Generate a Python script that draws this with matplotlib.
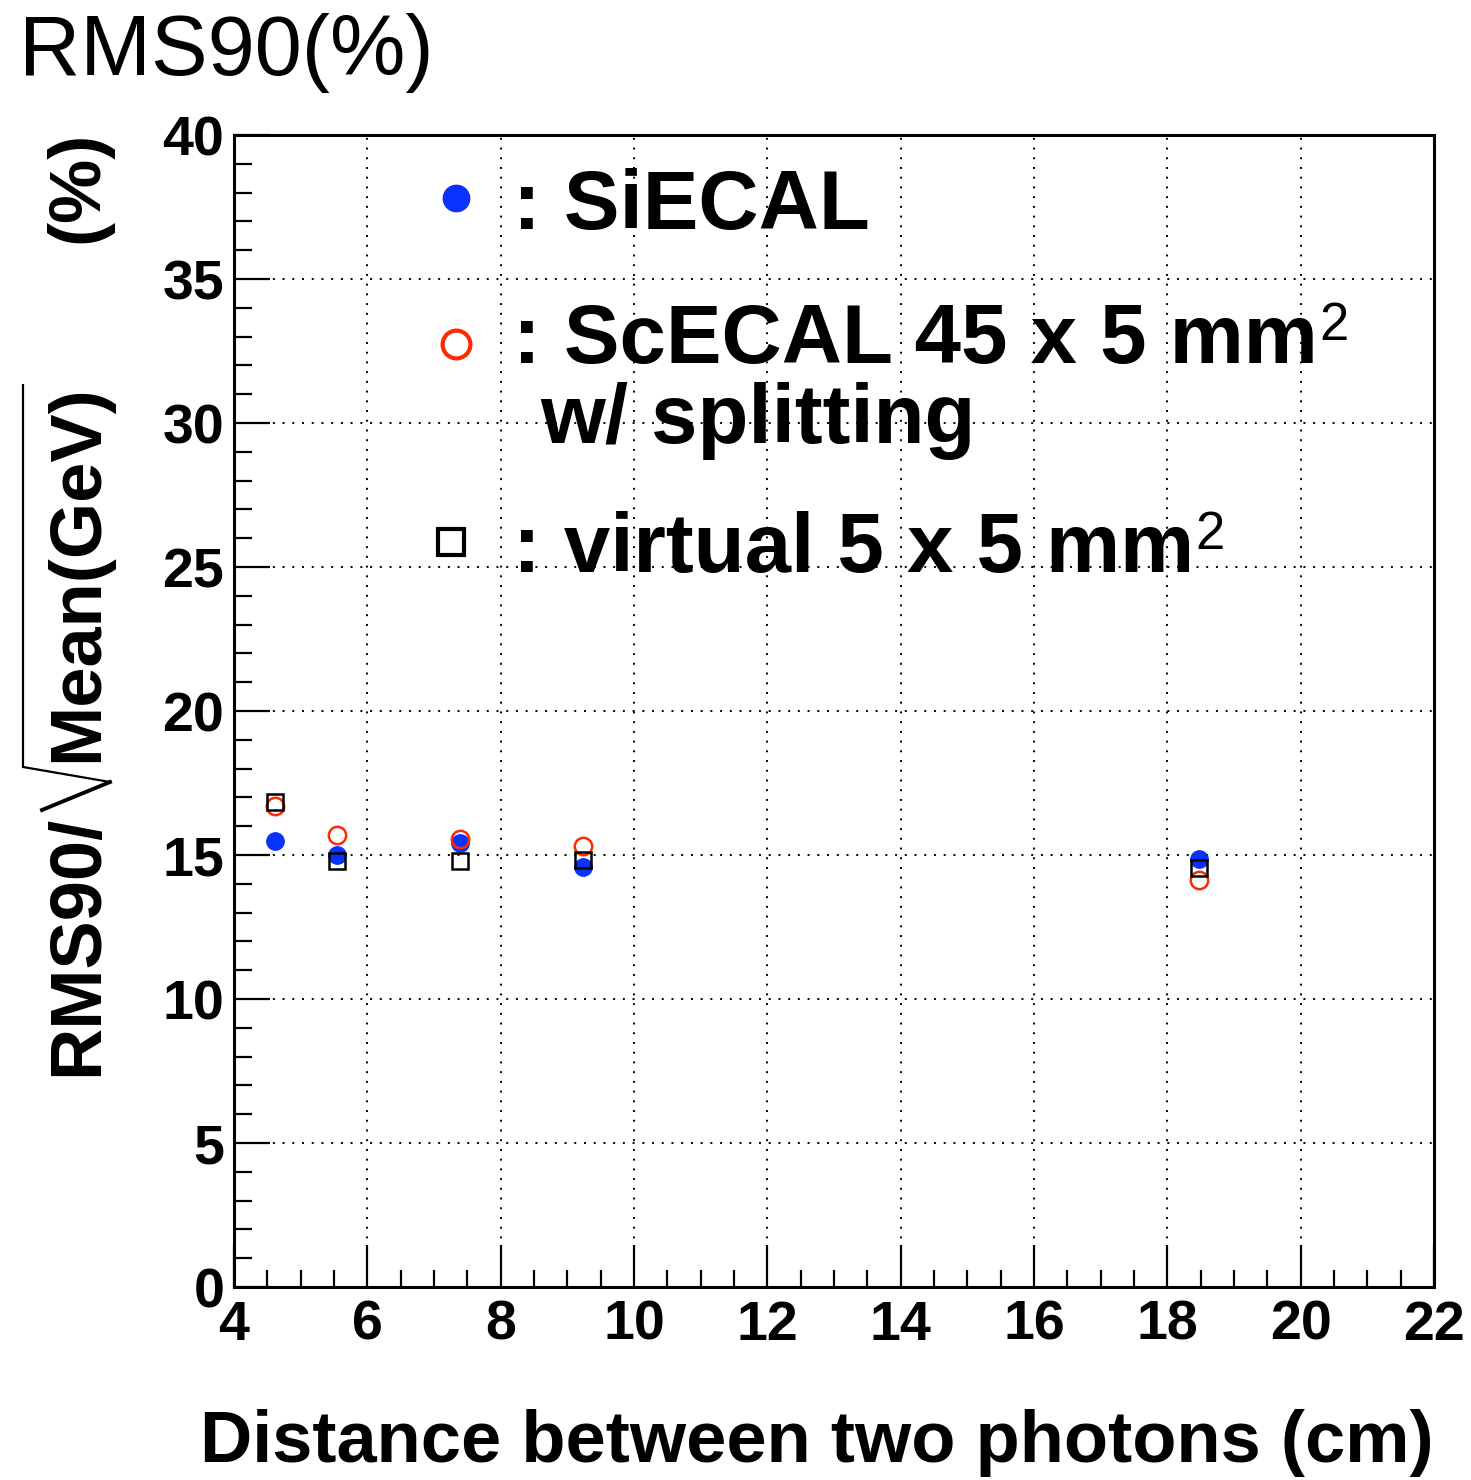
import matplotlib
matplotlib.use("Agg")
import matplotlib.pyplot as plt
from matplotlib.lines import Line2D
from matplotlib.ticker import MultipleLocator

# ---- data ----
distance_cm = [4.62, 5.55, 7.39, 9.24, 18.47]
siecal = [15.50, 15.00, 15.43, 14.57, 14.85]
scecal_split = [16.70, 15.68, 15.55, 15.31, 14.13]
virtual_5x5 = [16.84, 14.80, 14.80, 14.83, 14.54]

x_ticks = [4, 6, 8, 10, 12, 14, 16, 18, 20, 22]
y_ticks = [0, 5, 10, 15, 20, 25, 30, 35, 40]

legend_labels = [": SiECAL",
                 ": ScECAL 45 x 5 mm",
                 "w/ splitting",
                 ": virtual 5 x 5 mm"]
unit_exponent = "2"

BLUE = "#0a32ff"
RED = "#ff2a00"
FONT = "Liberation Sans"

plt.rcParams["font.family"] = [FONT, "DejaVu Sans"]

W, H = 1471, 1480
fig = plt.figure(figsize=(W / 100, H / 100), dpi=100)
ax = fig.add_axes([234 / W, 1 - 1287 / H, 1200 / W, 1152 / H])

ax.plot(distance_cm, siecal, linestyle="none", marker="o", ms=12.5,
        mfc=BLUE, mec=BLUE, zorder=3, clip_on=False)
ax.plot(distance_cm, scecal_split, linestyle="none", marker="o", ms=12.5,
        mfc="none", mec=RED, mew=1.8, zorder=4, clip_on=False)
ax.plot(distance_cm, virtual_5x5, linestyle="none", marker="s", ms=11.5,
        mfc="none", mec="black", mew=1.8, zorder=5, clip_on=False)

ax.set_xlim(4, 22)
ax.set_ylim(0, 40)
ax.set_xticks(x_ticks)
ax.set_yticks(y_ticks)
ax.set_xticklabels([str(v) for v in x_ticks])
ax.set_yticklabels([str(v) for v in y_ticks])
ax.xaxis.set_minor_locator(MultipleLocator(0.5))
ax.yaxis.set_minor_locator(MultipleLocator(1))

ax.tick_params(axis="both", which="both", direction="in", top=False, right=False,
               width=1.6, color="black")
ax.tick_params(axis="x", which="major", length=30, pad=9, labelsize=40)
ax.tick_params(axis="x", which="minor", length=12)
ax.tick_params(axis="y", which="major", length=26, pad=7, labelsize=40)
ax.tick_params(axis="y", which="minor", length=13)
for lab in ax.get_xticklabels() + ax.get_yticklabels():
    lab.set_fontweight("bold")

for s in ax.spines.values():
    s.set_linewidth(2.2)

ax.grid(True, which="major", color="black", linestyle=(0, (1, 4)), linewidth=1.4)
ax.set_axisbelow(True)

# ---- legend (drawn manually) ----
tr = ax.transAxes
ax.plot([0.185], [0.9453], marker="o", ms=19, mfc=BLUE, mec=BLUE,
        transform=tr, clip_on=False, linestyle="none")
ax.plot([0.185], [0.8186], marker="o", ms=20, mfc="none", mec=RED, mew=3,
        transform=tr, clip_on=False, linestyle="none")
ax.plot([0.1808], [0.6467], marker="s", ms=19, mfc="none", mec="black", mew=3,
        transform=tr, clip_on=False, linestyle="none")

lfs = 60
ax.text(0.2325, 0.9184, legend_labels[0], transform=tr, fontsize=lfs,
        fontweight="bold", va="baseline", ha="left")
t2 = ax.text(0.2325, 0.8021, legend_labels[1], transform=tr, fontsize=lfs,
             fontweight="bold", va="baseline", ha="left")
ax.text(0.255, 0.7326, legend_labels[2], transform=tr, fontsize=lfs,
        fontweight="bold", va="baseline", ha="left")
t4 = ax.text(0.2325, 0.6207, legend_labels[3], transform=tr, fontsize=lfs,
             fontweight="bold", va="baseline", ha="left")
# superscript "2" after "mm"
for t in (t2, t4):
    ax.annotate(unit_exponent, xy=(1, 0), xycoords=t, xytext=(1, 29),
                textcoords="offset points", fontsize=38, ha="left",
                va="baseline", annotation_clip=False)

# ---- title and axis labels ----
fig.text(19 / W, 1 - 75 / H, "RMS90(%)", fontsize=61, ha="left", va="baseline")

fig.text(1434 / W, 1 - 1462 / H, "Distance between two photons (cm)",
         fontsize=52, fontweight="bold", ha="right", va="baseline")


def fx(px):
    return px / W


def fy(py):
    return 1 - py / H


ylab_kw = dict(fontsize=52, fontweight="bold", rotation=90,
               rotation_mode="anchor", va="baseline")
fig.text(fx(97), fy(762), "Mean(GeV)", ha="left", **ylab_kw)
fig.text(fx(97), fy(815), "RMS90/", ha="right", **ylab_kw)
fig.text(fx(97), fy(131), "(%)", ha="right", **ylab_kw)

# square-root sign of the y-axis title
fig.add_artist(Line2D([fx(23), fx(23)], [fy(384), fy(767)],
                      transform=fig.transFigure, color="black", lw=1.6,
                      solid_capstyle="butt"))
fig.add_artist(Line2D([fx(23), fx(110)], [fy(767), fy(782)],
                      transform=fig.transFigure, color="black", lw=1.6))
fig.add_artist(Line2D([fx(110), fx(42)], [fy(782), fy(810)],
                      transform=fig.transFigure, color="black", lw=2.8))

fig.savefig("out.png", dpi=100)
